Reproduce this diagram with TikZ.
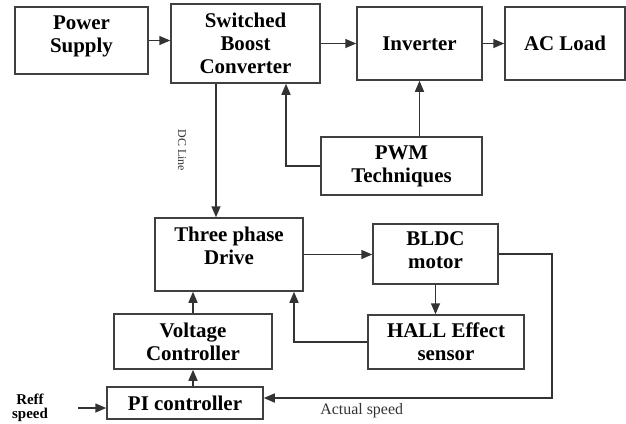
\documentclass[tikz,border=0pt]{standalone}
\usepackage{fontspec}
\setmainfont{Liberation Serif}
\usetikzlibrary{arrows.meta}

\begin{document}
\begin{tikzpicture}[
  x=1bp, y=-1bp,
  box/.style={draw=black!75, line width=1.5bp, align=center, inner sep=0pt,
              font=\fontsize{21}{23}\selectfont\bfseries},
  arr/.style={-{Triangle[length=11bp,width=9bp]}, black!80, line width=1.5bp},
  note/.style={font=\fontsize{16}{16}\selectfont, inner sep=1.5pt, align=center},
]
\useasboundingbox (0,0) rectangle (626,423);

% top row
\node[box, minimum width=133bp, minimum height=67bp, text depth=12bp]  (supply)   at (81.5,40.5) {Power\\Supply};
\node[box, minimum width=149bp, minimum height=79bp]                   (boost)    at (245.5,43.5) {Switched\\Boost\\Converter};
\node[box, minimum width=125bp, minimum height=73bp]                   (inverter) at (419.5,43.5) {Inverter};
\node[box, minimum width=120bp, minimum height=73bp]                   (load)     at (565,43.5) {AC Load};
\node[box, minimum width=161bp, minimum height=58bp]                   (pwm)      at (401.5,166) {PWM\\Techniques};

% motor loop
\node[box, minimum width=148bp, minimum height=73bp, text depth=18bp]  (drive)    at (229,254.5) {Three phase\\Drive};
\node[box, minimum width=125bp, minimum height=60bp, text depth=8bp]   (motor)    at (435.5,254) {BLDC\\motor};
\node[box, minimum width=156bp, minimum height=54bp]                   (hall)     at (446,342) {HALL Effect\\sensor};
\node[box, minimum width=158bp, minimum height=55bp]                   (volt)     at (193,341.5) {Voltage\\Controller};
\node[box, minimum width=156bp, minimum height=32bp]                   (pi)       at (185,403) {PI controller};

\node[note, font=\fontsize{15}{14}\selectfont\bfseries] (reff) at (30,408) {Reff\\speed};
\coordinate (refin) at (78,408);

\draw[arr] (supply) -- (supply -| boost.west);
\draw[arr] (boost) -- (inverter);
\draw[arr] (inverter) -- (load);
\draw[arr] (pwm.north -| inverter) -- (inverter.south);
\draw[arr] (pwm.west) -| ([xshift=40.5bp]boost.south);
\draw[arr] ([xshift=-29.5bp]boost.south) -- ([xshift=-29.5bp]boost.south |- drive.north)
  node[midway, xshift=-34bp, rotate=-90, note, font=\fontsize{12}{12}\selectfont]{DC Line};

\draw[arr] (drive) -- (drive -| motor.west);
\draw[arr] (motor.south) -- (motor.south |- hall.north);
\draw[arr] (hall.west) -| ([xshift=65bp]drive.south);
\draw[arr] (volt.north) -- (volt.north |- drive.south);
\draw[arr] (pi.north -| volt) -- (volt.south);
\draw[arr] (motor.east) -- ++(53,0) |- node[pos=0.83, below=3pt, note]{Actual speed} ([yshift=5bp]pi.east);
\draw[arr] (refin) -- (refin -| pi.west);
\end{tikzpicture}
\end{document}
